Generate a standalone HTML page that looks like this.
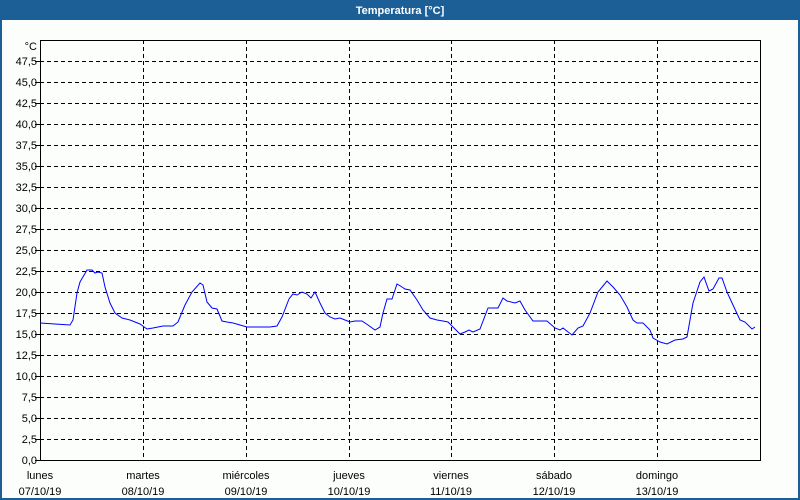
<!DOCTYPE html>
<html><head><meta charset="utf-8"><style>
html,body{margin:0;padding:0;background:#fff;}
body{width:800px;height:500px;overflow:hidden;}
svg{display:block;}
text{font-family:"Liberation Sans","DejaVu Sans",sans-serif;font-size:11px;fill:#000;}
</style></head><body>
<svg width="800" height="500" xmlns="http://www.w3.org/2000/svg">
<rect x="0" y="0" width="800" height="500" fill="#1c5f96"/>
<rect x="2" y="20" width="796" height="478" fill="#fcfefc"/>
<text x="400" y="14" text-anchor="middle" style="font-weight:bold;fill:#fff;font-size:11px">Temperatura [°C]</text>
<g stroke="#000" stroke-width="1" stroke-dasharray="4,3" fill="none">
<path d="M40 61.5H760M40 82.5H760M40 103.5H760M40 124.5H760M40 145.5H760M40 166.5H760M40 187.5H760M40 208.5H760M40 229.5H760M40 250.5H760M40 271.5H760M40 292.5H760M40 313.5H760M40 334.5H760M40 355.5H760M40 376.5H760M40 397.5H760M40 418.5H760M40 439.5H760"/>
<path d="M143.5 40V460M246.5 40V460M349.5 40V460M451.5 40V460M554.5 40V460M657.5 40V460"/>
</g>
<g stroke="#000" stroke-width="1" fill="none">
<path d="M40.5 40.5H760.5V460.5H40.5Z"/>
<path d="M35 61.5H40M35 82.5H40M35 103.5H40M35 124.5H40M35 145.5H40M35 166.5H40M35 187.5H40M35 208.5H40M35 229.5H40M35 250.5H40M35 271.5H40M35 292.5H40M35 313.5H40M35 334.5H40M35 355.5H40M35 376.5H40M35 397.5H40M35 418.5H40M35 439.5H40M35 460.5H40"/>
</g>
<g text-anchor="end">
<text x="37" y="50">°C</text>
<text x="37" y="65">47,5</text><text x="37" y="86">45,0</text><text x="37" y="107">42,5</text><text x="37" y="128">40,0</text><text x="37" y="149">37,5</text><text x="37" y="170">35,0</text><text x="37" y="191">32,5</text><text x="37" y="212">30,0</text><text x="37" y="233">27,5</text><text x="37" y="254">25,0</text><text x="37" y="275">22,5</text><text x="37" y="296">20,0</text><text x="37" y="317">17,5</text><text x="37" y="338">15,0</text><text x="37" y="359">12,5</text><text x="37" y="380">10,0</text><text x="37" y="401">7,5</text><text x="37" y="422">5,0</text><text x="37" y="443">2,5</text><text x="37" y="464">0,0</text>
</g>
<g text-anchor="middle">
<text x="40" y="479">lunes</text><text x="40" y="495">07/10/19</text>
<text x="143" y="479">martes</text><text x="143" y="495">08/10/19</text>
<text x="246" y="479">miércoles</text><text x="246" y="495">09/10/19</text>
<text x="349" y="479">jueves</text><text x="349" y="495">10/10/19</text>
<text x="451" y="479">viernes</text><text x="451" y="495">11/10/19</text>
<text x="554" y="479">sábado</text><text x="554" y="495">12/10/19</text>
<text x="657" y="479">domingo</text><text x="657" y="495">13/10/19</text>
</g>
<polyline fill="none" stroke="#0000ff" stroke-width="1" points="40,323 55,324 70,325 73,320 77,293 80,282 87,270 92,270 95,273 98,272 102,273 105,287 110,303 115,313 122,318 130,320 140,324 147,329 153,328 163,326 173,326 178,322 185,305 192,292 200,283 203,285 207,302 212,308 217,309 222,321 227,322 233,323 240,325 247,327 257,327 270,327 277,326 282,317 289,299 293,294 297,295 302,292 307,294 311,298 315,292 320,303 325,313 330,317 335,319 340,318 345,320 350,322 355,321 362,321 368,325 375,330 380,327 383,313 387,299 392,299 397,284 402,287 405,289 410,290 417,300 423,310 430,318 437,320 443,321 448,322 453,327 460,334 465,332 469,330 473,332 480,329 488,308 497,308 498,308 503,298 507,301 515,303 520,301 525,310 533,321 547,321 555,328 560,330 563,328 572,335 578,328 583,326 590,313 598,292 607,281 613,287 620,295 627,307 633,320 637,323 643,323 650,330 653,338 660,342 667,344 675,340 683,339 687,337 693,303 700,282 704,277 709,291 713,289 719,278 722,278 727,292 733,305 740,320 745,322 752,329 755,327"/>
</svg>
</body></html>
